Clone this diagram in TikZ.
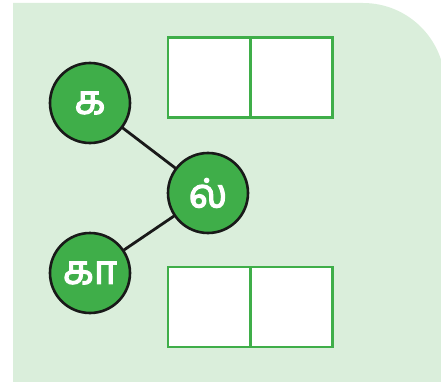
\documentclass[tikz,border=0pt]{standalone}
\usepackage{fontspec}
\newfontfamily\tamilfont[Script=Tamil,FakeBold=3]{Hind Madurai}
\definecolor{bgg}{HTML}{DAEEDB}
\definecolor{cg}{HTML}{3FAE49}
\begin{document}
\begin{tikzpicture}[x=1pt,y=-1pt,
  letter/.style={circle,draw=black!90,line width=2.6pt,fill=cg,minimum size=80pt,inner sep=0pt,text=white,font=\tamilfont\fontsize{40}{40}\selectfont},
  cell/.style={draw=cg,line width=2.2pt,fill=white,minimum width=82pt,minimum height=80pt,inner sep=0pt},
  link/.style={line width=2.8pt,draw=black!90,shorten <=-1pt,shorten >=-1pt}]
\useasboundingbox (0,0) rectangle (441,382);
\fill[bgg] (13,382) -- (13,3) -- (363,3) arc[start angle=-90,end angle=0,radius=82] -- (445,382) -- cycle;
\node[cell] (t1) at (209,77.5) {};
\node[cell] (t2) at (291.5,77.5) {};
\node[cell] (b1) at (209,307) {};
\node[cell] (b2) at (291.5,307) {};
\node[letter] (ka) at (90,103) {க};
\node[letter] (l) at (208,193) {ல்};
\node[letter] (kaa) at (90,273) {கா};
\draw[link] (ka) -- (l);
\draw[link] (l) -- (kaa);
\end{tikzpicture}
\end{document}
